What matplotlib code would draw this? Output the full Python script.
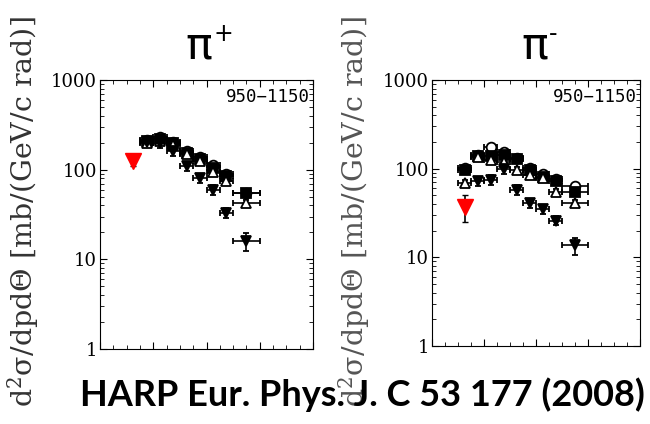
import numpy as np
import matplotlib
matplotlib.use("Agg")
import matplotlib.pyplot as plt
from matplotlib.ticker import MultipleLocator, FixedLocator, NullFormatter

plt.rcParams['mathtext.fontset'] = 'dejavuserif'

# momentum bins (GeV/c)
p = np.array([0.125, 0.175, 0.225, 0.275, 0.325, 0.375, 0.425, 0.475, 0.55])
dp = np.array([0.025, 0.025, 0.025, 0.025, 0.025, 0.025, 0.025, 0.025, 0.05])
nan = np.nan

# pi+ , 950-1150 mrad
pip_circ = [nan, 215, 230, 205, 160, 140, 112, 90, 55]
pip_sq = [nan, 210, 220, 200, 155, 132, 105, 85, 55]
pip_tri = [nan, 200, 210, 190, 150, 125, 95, 75, 43]
pip_dn = [nan, 205, 200, 160, 110, 80, 60, 33, 16]
pip_red = [125]
pip_red_err = [15]

# pi- , 950-1150 mrad
pim_circ = [102, 142, 175, 155, 132, 102, 86, 76, 64]
pim_sq = [97, 138, 140, 143, 128, 97, 80, 72, 54]
pim_tri = [69, 135, 125, 120, 97, 85, 78, 55, 41]
pim_dn = [nan, 72, 75, 100, 58, 41, 35, 26, 13.6]
pim_red = [37]
pim_red_err = [[12], [14]]

fig = plt.figure(figsize=(6.5, 4.24), dpi=100)

def panel(rect, circ, sq, tri, dn, red, red_err, sign, title_x):
    ax = fig.add_axes(rect)
    ax.set_yscale('log')
    ax.set_xlim(0, 0.8)
    ax.set_ylim(1, 1000)
    kw = dict(ls='none', color='black', elinewidth=1.2, capsize=2, ms=7, mew=1.3)
    for vals, m, fc, frac in [(circ, 'o', 'white', 0.08), (sq, 's', 'black', 0.08),
                              (tri, '^', 'white', 0.08), (dn, 'v', 'black', 0.12)]:
        v = np.array(vals, dtype=float)
        err = v * frac
        if m == 'v':
            err[-1] = v[-1] * 0.22
        ax.errorbar(p, v, xerr=dp, yerr=err, marker=m, mfc=fc, mec='black', **kw)
    ax.errorbar(p[:1], red, yerr=red_err, marker='v', ms=12, color='red',
                ecolor='black', ls='none', elinewidth=1.2, capsize=2, zorder=5)
    ax.xaxis.set_major_locator(MultipleLocator(0.2))
    ax.xaxis.set_minor_locator(MultipleLocator(0.05))
    ax.xaxis.set_major_formatter(NullFormatter())
    ax.yaxis.set_major_locator(FixedLocator([1, 10, 100, 1000]))
    ax.set_yticklabels(['1', '10', '100', '1000'], family='DejaVu Serif', fontsize=13)
    ax.tick_params(which='both', direction='in', top=True, right=True, length=3, pad=2)
    ax.tick_params(which='major', length=5)
    ax.text(0.985, 0.97, '950\u22121150', transform=ax.transAxes, ha='right', va='top',
            family='DejaVu Sans Mono', fontsize=12.5)
    # title: big pi with small superscript sign
    fig.text(title_x, 1 - 46 / 424, '\u03c0', ha='right', va='center', fontsize=32,
             family='DejaVu Sans')
    fig.text(title_x + 1 / 650, 1 - 34 / 424, sign, ha='left', va='center', fontsize=17,
             family='DejaVu Sans')
    return ax

panel([100 / 650, 1 - 349 / 424, 213 / 650, 269 / 424], pip_circ, pip_sq, pip_tri, pip_dn,
      pip_red, pip_red_err, '+', 212 / 650)
panel([432 / 650, 1 - 346 / 424, 208 / 650, 266 / 424], pim_circ, pim_sq, pim_tri, pim_dn,
      pim_red, pim_red_err, '-', 548 / 650)

ylab = r'$\mathregular{d^2\sigma/dpd\Theta}$ [mb/(GeV/c rad)]'
fig.text(23 / 650, 0.5, ylab, rotation=90, ha='center', va='center',
         family='DejaVu Serif', fontsize=20.5, color='#333333')
fig.text(354 / 650, 0.5, ylab, rotation=90, ha='center', va='center',
         family='DejaVu Serif', fontsize=20.5, color='#555555')

fig.text(362 / 650, 1 - 395 / 424, 'HARP Eur. Phys. J. C 53 177 (2008)', ha='center',
         va='center', fontsize=26, fontweight='bold', family='Lato', zorder=10)

fig.savefig('out.png', dpi=100)
